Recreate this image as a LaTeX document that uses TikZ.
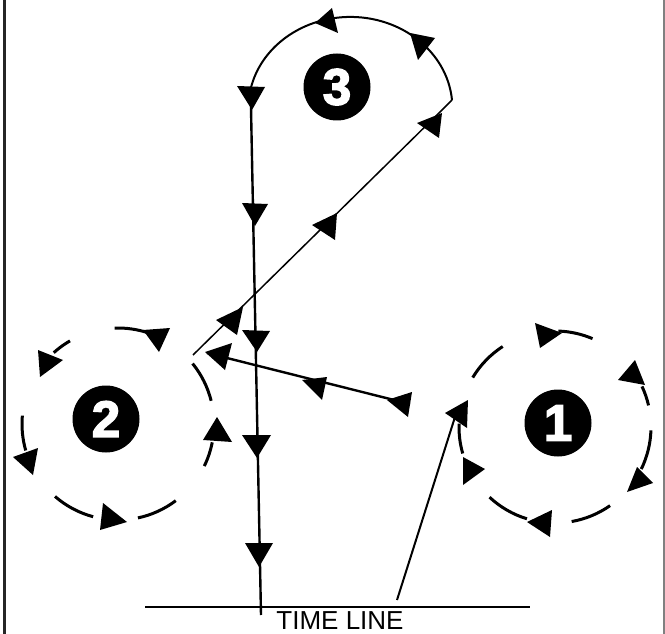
\documentclass[tikz,border=0pt]{standalone}
\usepackage{fontspec}
\setmainfont{Liberation Sans}
\newfontfamily\digitfont[FakeBold=3]{Liberation Sans Bold}
\begin{document}
\begin{tikzpicture}[x=1pt,y=-1pt,
  tri/.style={fill=black},
  dashline/.style={line width=3pt},
  disk/.style={circle,fill=black,minimum size=67pt,inner sep=0pt,text=white,
    font=\digitfont\fontsize{51}{51}\selectfont}]
\useasboundingbox (0,0) rectangle (665,634);
% frame sides
\draw[line width=2.3pt,black!85] (4.5,0) -- (4.5,634);
\draw[line width=1.3pt,gray] (664,0) -- (664,634);

% named points
\coordinate (dstart) at (193,355);
\coordinate (dend) at (442,110);
\coordinate (arcstart) at (452,100);
\coordinate (vtop) at (250.6,87.5);
\coordinate (vbot) at (261,615);
\coordinate (tlL) at (145,607);
\coordinate (tlR) at (530,607);

% path of 3
\draw[line width=1.5pt] (dstart) -- (dend) -- (arcstart);
\draw[line width=2pt] (arcstart) arc[start angle=5,end angle=167,x radius=102pt,y radius=91pt];
\draw[line width=2.4pt] (vtop) -- (vbot);

% time line
\draw[line width=2pt] (tlL) -- (tlR);
\node[anchor=base,font=\fontsize{26}{26}\selectfont,inner sep=0pt] (tl) at (340,629) {TIME LINE};

% line from time line to circle 1
\coordinate (a1) at (397,600);
\coordinate (a2) at (455,417);
\draw[line width=2pt] (a1) -- (a2);

% line from circle 1 to circle 2
\coordinate (b1) at (410,404);
\coordinate (b2) at (207,353);
\draw[line width=2.4pt] (b1) -- (b2);

% arrows on vertical line
\fill[tri] (237,86) -- (265,87) -- (252,110) -- cycle;
\fill[tri] (242,203) -- (268,204) -- (255,226) -- cycle;
\fill[tri] (242,330) -- (270,331) -- (257,352) -- cycle;
\fill[tri] (242,435) -- (271,435) -- (257,458) -- cycle;
\fill[tri] (245,543) -- (273,543) -- (259,567) -- cycle;
% arrows on diagonal
\fill[tri] (417,123) -- (442,113) -- (439,138) -- cycle;
\fill[tri] (312,225) -- (337,213) -- (335,240) -- cycle;
\fill[tri] (216,320) -- (243,307) -- (237,335) -- cycle;
% arrows on arc of 3
\fill[tri] (315,23) -- (332,8) -- (338,33) -- cycle;
\fill[tri] (410,33) -- (435,38) -- (418,60) -- cycle;
% arrows on line to circle 2
\fill[tri] (387,400) -- (412,392) -- (408,417) -- cycle;
\fill[tri] (302,380) -- (327,377) -- (322,400) -- cycle;
\fill[tri] (205,352) -- (232,343) -- (225,370) -- cycle;

% circle 2 dashes
\foreach \s/\e in {72/92,120/132,175/196,229/255,282/307,334/349,14/39}{
  \draw[dashline] ([shift={(\s:96pt)}]118,424) arc[start angle=\s,end angle=\e,radius=96pt];
}
\fill[tri] (143,330) -- (170,328) -- (159,352) -- cycle;
\fill[tri] (38,350) -- (63,360) -- (40,377) -- cycle;
\fill[tri] (13,457) -- (38,448) -- (33,475) -- cycle;
\fill[tri] (103,503) -- (127,522) -- (100,530) -- cycle;
\fill[tri] (217,417) -- (232,442) -- (203,440) -- cycle;

% circle 1 dashes
\foreach \s/\e in {67/88,123/149,178/196,227/253,280/305,334/358,13/25}{
  \draw[dashline] ([shift={(\s:96pt)}]555,427) arc[start angle=\s,end angle=\e,radius=96pt];
}
\fill[tri] (535,323) -- (562,333) -- (540,348) -- cycle;
\fill[tri] (618,380) -- (635,360) -- (645,385) -- cycle;
\fill[tri] (637,467) -- (653,483) -- (627,492) -- cycle;
\fill[tri] (552,510) -- (550,537) -- (527,522) -- cycle;
\fill[tri] (463,457) -- (485,469) -- (463,485) -- cycle;
\fill[tri] (445,413) -- (468,400) -- (467,428) -- cycle;

% numbered disks
\node[disk] (n1) at (558,423) {1};
\node[disk] (n2) at (106,419) {2};
\node[disk] (n3) at (337,87) {3};
\end{tikzpicture}
\end{document}
